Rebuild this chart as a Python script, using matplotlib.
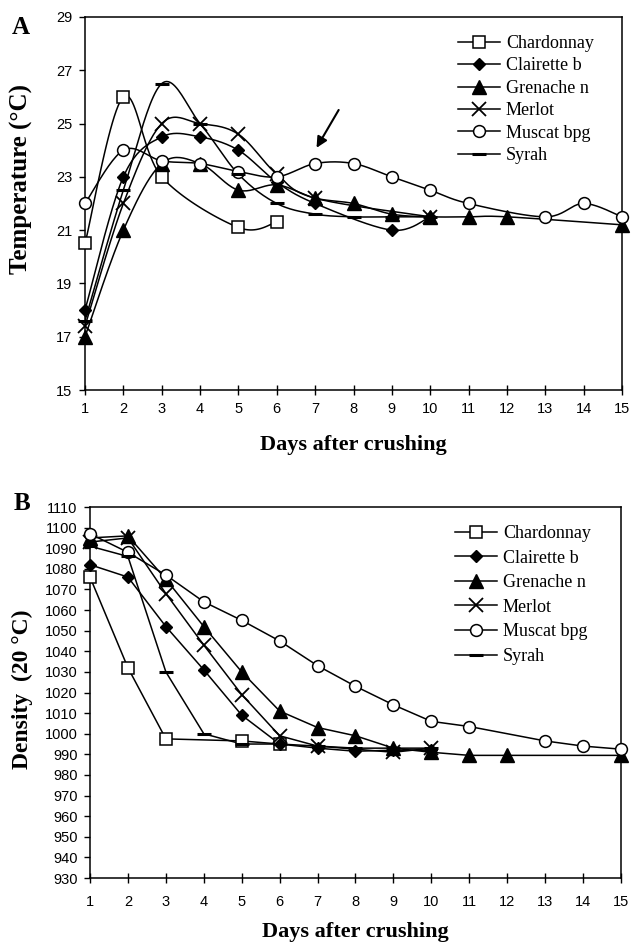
import numpy as np
import matplotlib
matplotlib.use("Agg")
import matplotlib.pyplot as plt

# ---------------- data ----------------
days = list(range(1, 16))
day_labels = [str(d) for d in days]
varieties = ["Chardonnay", "Clairette b", "Grenache n", "Merlot", "Muscat bpg", "Syrah"]

N = None
# Panel A: temperature (°C)
chardonnay_t = [20.5, 26.0, 23.0, N, 21.1, 21.3, N, N, N, N, N, N, N, N, N]
clairette_t = [18.0, 23.0, 24.5, 24.5, 24.0, 22.8, 22.0, N, 21.0, 21.5, N, N, N, N, N]
grenache_t = [17.0, 21.0, 23.5, 23.5, 22.5, 22.7, 22.2, 22.0, 21.6, 21.5, 21.5, 21.5, N, N, 21.2]
merlot_t = [17.4, 22.0, 25.0, 25.0, 24.6, 23.1, 22.2, N, N, 21.5, N, N, N, N, N]
muscat_t = [22.0, 24.0, 23.6, 23.5, 23.2, 23.0, 23.5, 23.5, 23.0, 22.5, 22.0, N, 21.5, 22.0, 21.5]
syrah_t = [17.6, 22.5, 26.5, 25.0, 23.1, 22.0, 21.6, 21.5, 21.5, 21.5, N, N, N, N, N]

# Panel B: density (20 °C)
chardonnay_d = [1076, 1032, 997.5, N, 996.5, 995, N, N, N, N, N, N, N, N, N]
clairette_d = [1082, 1076, 1052, 1031, 1009, 995, 993, 991.5, 992, 992, N, N, N, N, N]
grenache_d = [1095, 1096, 1075, 1052, 1030, 1011, 1003, 999, 993, 991, 989.5, 989.5, N, N, 989.5]
merlot_d = [1093, 1095, 1068, 1043, 1019, 999, 994, N, 991, 993, N, N, N, N, N]
muscat_d = [1097, 1088, 1077, 1064, 1055, 1045, 1033, 1023, 1014, 1006, 1003.5, N, 996.5, 994, 992.5]
syrah_d = [1091, 1086, 1030, 1000, 995, 995, 994, 993, 993, 993, N, N, N, N, N]

temp_ticks = [15, 17, 19, 21, 23, 25, 27, 29]
dens_ticks = list(range(930, 1111, 10))

temps = [chardonnay_t, clairette_t, grenache_t, merlot_t, muscat_t, syrah_t]
dens = [chardonnay_d, clairette_d, grenache_d, merlot_d, muscat_d, syrah_d]

# ---------------- styles ----------------
styles = [
    dict(marker="s", mfc="white", mec="black", ms=8.5, mew=1.1),
    dict(marker="D", mfc="black", mec="black", ms=6.6, mew=1.0),
    dict(marker="^", mfc="black", mec="black", ms=9.5, mew=1.0),
    dict(marker="x", mfc="black", mec="black", ms=9.5, mew=1.3),
    dict(marker="o", mfc="white", mec="black", ms=8.5, mew=1.1),
    dict(marker="_", mfc="black", mec="black", ms=10, mew=2.2),
]

SERIF = ["Liberation Serif", "DejaVu Serif"]
SANS = ["Liberation Sans", "DejaVu Sans"]
plt.rcParams["font.family"] = SANS


def valid(xs, ys):
    x = np.array([a for a, b in zip(xs, ys) if b is not None], dtype=float)
    y = np.array([b for b in ys if b is not None], dtype=float)
    return x, y


def catmull_rom(x, y, n=24):
    p = np.column_stack([x, y])
    p = np.vstack([p[0], p, p[-1]])
    out = []
    t = np.linspace(0, 1, n)[:, None]
    for i in range(1, len(p) - 2):
        p0, p1, p2, p3 = p[i - 1], p[i], p[i + 1], p[i + 2]
        seg = 0.5 * ((2 * p1) + (-p0 + p2) * t + (2 * p0 - 5 * p1 + 4 * p2 - p3) * t ** 2
                     + (-p0 + 3 * p1 - 3 * p2 + p3) * t ** 3)
        out.append(seg if i == 1 else seg[1:])
    s = np.vstack(out)
    return s[:, 0], s[:, 1]


W, H = 632, 946
fig = plt.figure(figsize=(W / 100, H / 100), dpi=100)


def fx(px):
    return px / W


def fy(py):
    return 1 - py / H


axA = fig.add_axes([fx(85), fy(390), fx(622) - fx(85), fy(17) - fy(390)])
axB = fig.add_axes([fx(90), fy(878), fx(621) - fx(90), fy(507) - fy(878)])


def draw(ax, series, smooth):
    handles = []
    for name, vals, st in zip(varieties, series, styles):
        x, y = valid(days, vals)
        if smooth:
            sx, sy = catmull_rom(x, y)
        else:
            sx, sy = x, y
        ax.plot(sx, sy, color="black", lw=1.1, zorder=2)
        ax.plot(x, y, linestyle="none", zorder=3, clip_on=False, **st)
        h, = ax.plot([], [], color="black", lw=1.1, **st)
        h.set_label(name)
        handles.append(h)
    return handles


hA = draw(axA, temps, smooth=True)
hB = draw(axB, dens, smooth=False)

for ax in (axA, axB):
    ax.set_xlim(1, 15)
    ax.set_xticks(days)
    ax.set_xticklabels(day_labels)
    for sp in ax.spines.values():
        sp.set_linewidth(1.1)
    ax.tick_params(axis="y", direction="out", length=4, width=1, labelsize=10.5, pad=5)
    ax.tick_params(axis="x", direction="inout", length=7, width=1, labelsize=10.5)

axA.set_ylim(15, 29)
axA.set_yticks(temp_ticks)
axA.tick_params(axis="x", pad=5)
axB.set_ylim(930, 1110)
axB.set_yticks(dens_ticks)
axB.tick_params(axis="x", pad=9)

axA.set_ylabel("Temperature (°C)", family=SERIF, fontweight="bold", fontsize=18)
axA.yaxis.set_label_coords(-0.097, 0.567)
axB.set_ylabel("Density  (20 °C)", family=SERIF, fontweight="bold", fontsize=17)
axB.yaxis.set_label_coords(-0.107, 0.509)

fig.text(fx(353), fy(445), "Days after crushing", family=SERIF, fontweight="bold",
         fontsize=16, ha="center", va="center")
fig.text(fx(355), fy(932), "Days after crushing", family=SERIF, fontweight="bold",
         fontsize=16, ha="center", va="center")

fig.text(fx(21), fy(28), "A", family=SERIF, fontweight="bold", fontsize=18, ha="center", va="center")
fig.text(fx(22), fy(503), "B", family=SERIF, fontweight="bold", fontsize=18, ha="center", va="center")

legA = axA.legend(handles=hA, loc="upper left", bbox_to_anchor=(fx(458), fy(35)),
                  bbox_transform=fig.transFigure, frameon=False, borderpad=0, borderaxespad=0,
                  handlelength=2.3, handletextpad=0.35, labelspacing=0.3,
                  prop=dict(family=SERIF, size=13), markerscale=1.0)
legB = axB.legend(handles=hB, loc="upper left", bbox_to_anchor=(fx(455), fy(525)),
                  bbox_transform=fig.transFigure, frameon=False, borderpad=0, borderaxespad=0,
                  handlelength=2.3, handletextpad=0.35, labelspacing=0.42,
                  prop=dict(family=SERIF, size=13), markerscale=1.0)

axA.annotate("", xy=(7.0, 24.0), xytext=(7.65, 25.6),
             arrowprops=dict(arrowstyle="-|>", color="black", lw=1.5, mutation_scale=16))

fig.savefig("out.png", dpi=100)
